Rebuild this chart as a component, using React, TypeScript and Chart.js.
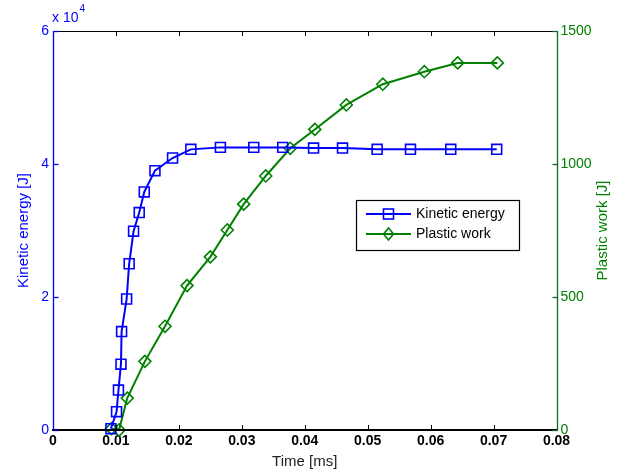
import React, { useEffect, useRef } from 'react';
import { Chart, registerables } from 'chart.js';
Chart.register(...registerables);

// Kinetic energy series (time in ms, energy in J)
const keTime = [0.0092, 0.0101, 0.0104, 0.0108, 0.0109, 0.0117, 0.0121, 0.0128, 0.0137, 0.0145, 0.0162, 0.0190, 0.0219, 0.0266, 0.0319, 0.0365, 0.0414, 0.0460, 0.0515, 0.0568, 0.0632, 0.0705];
const keValues = [200, 2750, 6000, 9900, 14800, 19700, 25000, 29900, 32700, 35800, 39000, 40900, 42200, 42500, 42500, 42500, 42400, 42400, 42200, 42200, 42200, 42200];

// Plastic work series
const pwTime = [0.0093, 0.0105, 0.0118, 0.0146, 0.0178, 0.0213, 0.0250, 0.0277, 0.0303, 0.0338, 0.0377, 0.0416, 0.0466, 0.0524, 0.0590, 0.0643, 0.0706];
const pwValues = [5, 0, 120, 258, 390, 543, 651, 752, 849, 955, 1059, 1130, 1222, 1300, 1347, 1380, 1380];

const xTicks = [0, 0.01, 0.02, 0.03, 0.04, 0.05, 0.06, 0.07, 0.08];
const leftTicks = [0, 20000, 40000, 60000];
const rightTicks = [0, 500, 1000, 1500];

const BLUE = '#0000ff';
const GREEN = '#008000';
const FONT = "'Liberation Sans', Arial, Helvetica, sans-serif";
const RIGHT_TITLE = 'Plastic work [J]';

const framePlugin = {
  id: 'frame',
  afterDatasetsDraw(chart: any) {
    const { ctx, chartArea, scales } = chart;
    const { left, right, top, bottom } = chartArea;
    const tl = 5;
    ctx.save();
    const seg = (x1: number, y1: number, x2: number, y2: number) => {
      ctx.beginPath();
      ctx.moveTo(x1, y1);
      ctx.lineTo(x2, y2);
      ctx.stroke();
    };
    // x ticks top & bottom
    ctx.strokeStyle = '#000';
    ctx.lineWidth = 1;
    xTicks.forEach((v) => {
      const px = Math.round(scales.x.getPixelForValue(v)) + 0.5;
      seg(px, top, px, top + tl);
      seg(px, bottom, px, bottom - tl);
    });
    // top line
    seg(left, Math.round(top) + 0.5, right, Math.round(top) + 0.5);
    // bottom line
    ctx.lineWidth = 2;
    seg(left - 1, Math.round(bottom), right + 1, Math.round(bottom));
    // left axis
    ctx.strokeStyle = BLUE;
    ctx.lineWidth = 1.3;
    const lx = Math.round(left) + 0.5;
    seg(lx, top, lx, bottom);
    leftTicks.forEach((v) => {
      const py = Math.round(scales.y.getPixelForValue(v)) + 0.5;
      seg(lx, py, lx + tl, py);
    });
    // right axis
    ctx.strokeStyle = '#0a6a30';
    const rx = Math.round(right) + 0.5;
    seg(rx, top, rx, bottom);
    rightTicks.forEach((v) => {
      const py = Math.round(scales.y1.getPixelForValue(v)) + 0.5;
      seg(rx, py, rx - tl, py);
    });
    // exponent label
    ctx.fillStyle = BLUE;
    ctx.textBaseline = 'middle';
    ctx.textAlign = 'left';
    ctx.font = `14px ${FONT}`;
    ctx.fillText('x 10', left - 1, top - 13);
    const w = ctx.measureText('x 10').width;
    ctx.font = `10px ${FONT}`;
    ctx.fillText('4', left - 1 + w + 1, top - 22);
    // right axis title (reads bottom-to-top)
    ctx.save();
    ctx.translate(603, (top + bottom) / 2);
    ctx.rotate(-Math.PI / 2);
    ctx.textAlign = 'center';
    ctx.fillStyle = GREEN;
    ctx.font = `15px ${FONT}`;
    ctx.fillText(RIGHT_TITLE, 0, 0);
    ctx.restore();
    ctx.restore();
  },
  afterDraw(chart: any) {
    const { ctx } = chart;
    ctx.save();
    const bx = 356.5, by = 200.5, bw = 163, bh = 50;
    ctx.fillStyle = '#fff';
    ctx.fillRect(bx, by, bw, bh);
    ctx.strokeStyle = '#000';
    ctx.lineWidth = 1.2;
    ctx.strokeRect(bx, by, bw, bh);
    const rows = chart.data.datasets.map((ds: any, i: number) => ({ ds, y: i === 0 ? 214 : 234 }));
    rows.forEach(({ ds, y }: any) => {
      ctx.strokeStyle = ds.borderColor;
      ctx.lineWidth = 2;
      ctx.beginPath();
      ctx.moveTo(366, y);
      ctx.lineTo(411, y);
      ctx.stroke();
      ctx.lineWidth = 1.6;
      if (ds.pointStyle === 'rect') {
        ctx.strokeRect(383.5, y - 5, 10, 10);
      } else {
        ctx.beginPath();
        ctx.moveTo(388.5, y - 6);
        ctx.lineTo(393.5, y);
        ctx.lineTo(388.5, y + 6);
        ctx.lineTo(383.5, y);
        ctx.closePath();
        ctx.stroke();
      }
      ctx.fillStyle = '#000';
      ctx.font = `14px ${FONT}`;
      ctx.textAlign = 'left';
      ctx.textBaseline = 'middle';
      ctx.fillText(ds.label, 416, y + 0.5);
    });
    ctx.restore();
  },
};

export default function App() {
  const ref = useRef<HTMLCanvasElement>(null);
  useEffect(() => {
    if (!ref.current) return;
    const chart = new Chart(ref.current, {
      type: 'line',
      data: {
        datasets: [
          {
            label: 'Kinetic energy',
            data: keTime.map((t, i) => ({ x: t, y: keValues[i] })),
            borderColor: BLUE,
            backgroundColor: 'rgba(0,0,0,0)',
            borderWidth: 2,
            pointStyle: 'rect',
            pointRadius: 7,
            pointBorderWidth: 1.6,
            pointBackgroundColor: 'rgba(0,0,0,0)',
            pointBorderColor: BLUE,
            yAxisID: 'y',
            clip: false as any,
          },
          {
            label: 'Plastic work',
            data: pwTime.map((t, i) => ({ x: t, y: pwValues[i] })),
            borderColor: GREEN,
            backgroundColor: 'rgba(0,0,0,0)',
            borderWidth: 2,
            pointStyle: 'rectRot',
            pointRadius: 6,
            pointBorderWidth: 1.6,
            pointBackgroundColor: 'rgba(0,0,0,0)',
            pointBorderColor: GREEN,
            yAxisID: 'y1',
            clip: false as any,
          },
        ],
      },
      options: {
        animation: false,
        responsive: false,
        layout: { padding: { top: 31, left: 0, right: 0, bottom: 0 }, autoPadding: false },
        plugins: { legend: { display: false }, tooltip: { enabled: false } },
        scales: {
          x: {
            type: 'linear',
            min: 0,
            max: 0.08,
            afterFit: (s: any) => { s.height = 44; },
            afterBuildTicks: (s: any) => { s.ticks = xTicks.map((v) => ({ value: v })); },
            grid: { display: false, drawTicks: false },
            border: { display: false },
            ticks: {
              autoSkip: false,
              maxRotation: 0,
              padding: 3,
              color: '#000',
              font: { family: FONT, size: 14, weight: 'bold' },
              callback: (v: any) => (v === 0 ? '0' : Number(v).toFixed(2)),
            },
            title: { display: true, text: 'Time [ms]', color: '#222', font: { family: FONT, size: 15 }, padding: { top: 0, bottom: 3 } },
          },
          y: {
            type: 'linear',
            position: 'left',
            min: 0,
            max: 60000,
            afterFit: (s: any) => { s.width = 53; },
            afterBuildTicks: (s: any) => { s.ticks = leftTicks.map((v) => ({ value: v })); },
            grid: { display: false, drawTicks: false },
            border: { display: false },
            ticks: {
              padding: 4,
              color: BLUE,
              font: { family: FONT, size: 14 },
              callback: (v: any) => String(Number(v) / 10000),
            },
            title: { display: true, text: 'Kinetic energy [J]', color: BLUE, font: { family: FONT, size: 15 }, padding: { top: 15, bottom: 0 } },
          },
          y1: {
            type: 'linear',
            position: 'right',
            min: 0,
            max: 1500,
            afterFit: (s: any) => { s.width = 63.5; },
            afterBuildTicks: (s: any) => { s.ticks = rightTicks.map((v) => ({ value: v })); },
            grid: { display: false, drawTicks: false },
            border: { display: false },
            ticks: {
              padding: 4,
              color: GREEN,
              font: { family: FONT, size: 14 },
              callback: (v: any) => String(v),
            },
            title: { display: false, text: RIGHT_TITLE },
          },
        },
      },
      plugins: [framePlugin],
    });
    return () => chart.destroy();
  }, []);
  return (
    <div style={{ position: 'fixed', left: 0, top: 0, width: 620, height: 474, background: '#fff' }}>
      <canvas ref={ref} width={620} height={474} style={{ display: 'block' }} />
    </div>
  );
}
